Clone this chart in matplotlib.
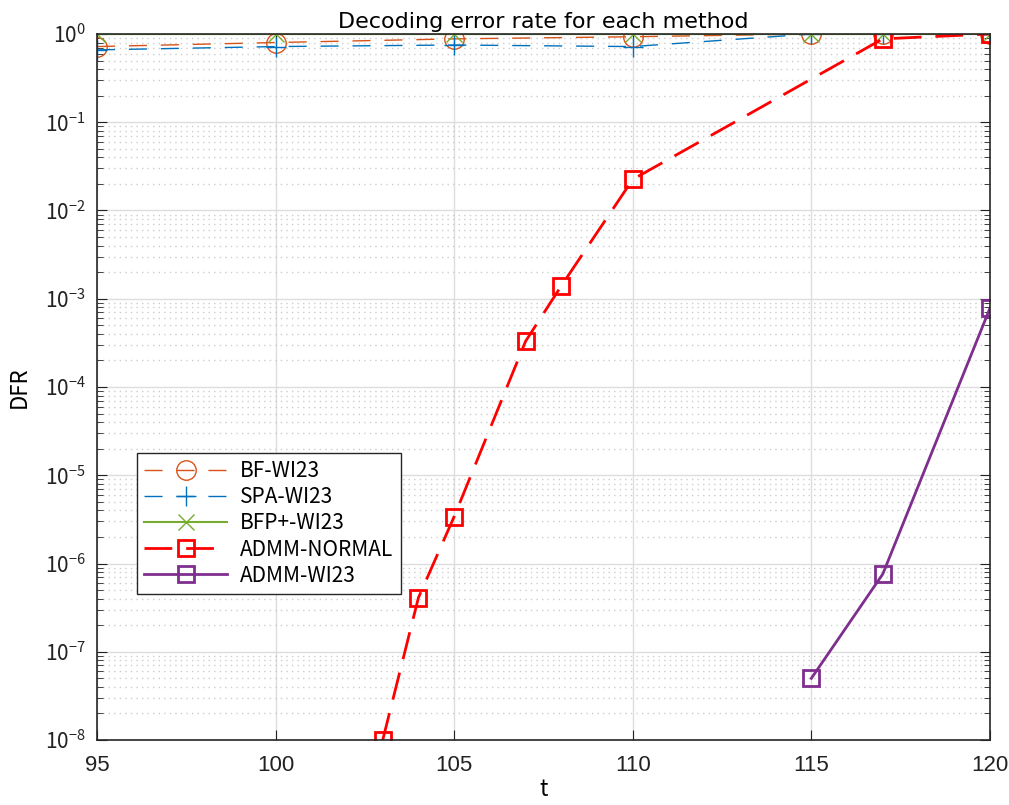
import numpy as np
import matplotlib
matplotlib.use("Agg")
import matplotlib.pyplot as plt
from matplotlib.ticker import LogLocator, NullFormatter, MultipleLocator

plt.rcParams['font.family'] = ['Noto Sans CJK JP', 'DejaVu Sans']

# decoding failure rate per method
t_wi23 = [95, 100, 105, 110, 115, 117, 120]
bf_wi23 = [0.72, 0.80, 0.88, 0.93, 1.0, 1.0, 1.0]
spa_wi23 = [0.66, 0.72, 0.75, 0.72, 1.0, 1.0, 1.0]
bfp_wi23 = [1.0, 1.0, 1.0, 1.0, 1.0, 1.0, 1.0]

t_admm_normal = [103, 104, 105, 107, 108, 110, 117, 120]
admm_normal = [1.0e-8, 4.1e-7, 3.4e-6, 3.3e-4, 1.4e-3, 0.0225, 0.88, 1.0]

t_admm_wi23 = [115, 117, 120]
admm_wi23 = [5.0e-8, 7.6e-7, 7.8e-4]

fig = plt.figure(figsize=(10.09, 8.05), dpi=100)
ax = fig.add_axes([0.0961, 0.0807, 0.885, 0.8771])

ax.semilogy(t_wi23, bf_wi23, linestyle=(0, (13, 10)), color='#D95319', lw=1.0,
            marker='o', ms=14, mfc='none', mew=1.0, label='BF-WI23')
ax.semilogy(t_wi23, spa_wi23, linestyle=(0, (13, 10)), color='#0072BD', lw=1.0,
            marker='+', ms=15, mew=1.0, label='SPA-WI23')
ax.semilogy(t_wi23, bfp_wi23, linestyle='-', color='#77AC30', lw=1.5,
            marker='x', ms=11, mew=1.0, label='BFP+-WI23')
ax.semilogy(t_admm_normal, admm_normal, linestyle=(0, (10, 5)), color='#FF0000', lw=2.0,
            marker='s', ms=11, mfc='none', mew=2.0, label='ADMM-NORMAL')
ax.semilogy(t_admm_wi23, admm_wi23, linestyle='-', color='#7E2F8E', lw=2.0,
            marker='s', ms=11, mfc='none', mew=2.0, label='ADMM-WI23')

ax.set_xlim(95, 120)
ax.set_ylim(1e-8, 1)
ax.xaxis.set_major_locator(MultipleLocator(5))
ax.yaxis.set_major_locator(LogLocator(base=10, numticks=20))
ax.yaxis.set_minor_locator(LogLocator(base=10, subs=np.arange(2, 10), numticks=20))
ax.yaxis.set_minor_formatter(NullFormatter())

ax.grid(True, which='major', color='#dddddd', lw=1.0, ls='-')
ax.grid(True, which='minor', axis='y', color='#cccccc', lw=1.0, ls=(0, (1, 3)))
ax.set_axisbelow(True)

ax.tick_params(which='both', direction='in', top=True, right=True, colors='#222222')
ax.tick_params(which='major', length=7)
ax.tick_params(which='minor', length=4)
ax.tick_params(axis='x', pad=11, labelsize=16)
ax.tick_params(axis='y', pad=8, labelsize=15)
for lab in ax.get_xticklabels():
    lab.set_family(['Liberation Sans', 'DejaVu Sans'])
for s in ax.spines.values():
    s.set_color('#262626')
    s.set_linewidth(1.2)

ax.set_title('Decoding error rate for each method', fontsize=16, pad=4,
             family=['DejaVu Sans'])
ax.set_xlabel('t', fontsize=16, labelpad=1)
ax.set_ylabel('DFR', fontsize=16, labelpad=10)

leg = ax.legend(loc='lower left', bbox_to_anchor=(0.033, 0.192), fontsize=15,
                handlelength=4.0, fancybox=False, edgecolor='#262626',
                framealpha=1, borderpad=0.35, labelspacing=0.2, handletextpad=0.6)
leg.get_frame().set_linewidth(1.0)

fig.savefig('out.png', dpi=100)
